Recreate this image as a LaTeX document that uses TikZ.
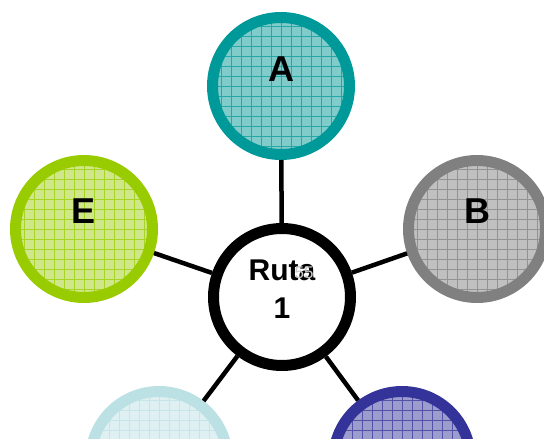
\documentclass[tikz,border=0pt]{standalone}
\usepackage{fontspec}
\setmainfont{Liberation Sans}
\usepackage{tikz}
\usetikzlibrary{positioning}
\definecolor{tealR}{HTML}{009999}
\definecolor{tealF}{HTML}{80CCCA}
\definecolor{greyR}{HTML}{808080}
\definecolor{greyF}{HTML}{C0C0C0}
\definecolor{limeR}{HTML}{99CC00}
\definecolor{limeF}{HTML}{D0E68A}
\definecolor{iceR}{HTML}{BCE1E4}
\definecolor{iceF}{HTML}{DFF0F2}
\definecolor{navyR}{HTML}{333399}
\definecolor{navyF}{HTML}{9C9CCD}
\tikzset{
  bubble/.style 2 args={circle, draw=#1, fill=#2, line width=11pt, minimum size=137pt,
    inner sep=0pt, outer sep=auto,
    path picture={\draw[#1!85, line width=0.5pt, step=10pt]
      (path picture bounding box.south west) grid (path picture bounding box.north east);}},
  hub/.style={circle, draw=black, fill=white, line width=11pt, minimum size=137pt,
    inner sep=0pt, outer sep=auto},
  spoke/.style={black, line width=4.5pt},
  tag/.style={font=\fontsize{36}{40}\selectfont\bfseries},
}
\begin{document}
\begin{tikzpicture}[x=1pt, y=-1pt]
  \useasboundingbox (0,0) rectangle (544,439);
  \clip (0,0) rectangle (544,439);
  % route hub and the five stops
  \node[hub] (ruta) at (282,297) {};
  \node[bubble={tealR}{tealF}] (A) at (281,86) {};
  \node[bubble={greyR}{greyF}] (B) at (477,229) {};
  \node[bubble={limeR}{limeF}] (E) at (84,229) {};
  \node[bubble={iceR}{iceF}] (D) at (159,460) {};
  \node[bubble={navyR}{navyF}] (C) at (402,460) {};
  % spokes
  \foreach \s in {A,B,C,D,E}
    \draw[spoke] (ruta) -- (\s);
  % labels
  \node[tag] (A-txt) at ([yshift=17pt]A.center) {A};
  \node[tag] (B-txt) at ([yshift=18pt]B.center) {B};
  \node[tag] (E-txt) at ([yshift=18pt]E.center) {E};
  \node[font=\fontsize{30}{38}\selectfont\bfseries, align=center] (ruta-txt)
    at ([yshift=8pt]ruta.center) {Ruta\\1};
  \node[font=\fontsize{17}{17}\selectfont, text=gray!45] (ruta-num) at (304,273) {55};
\end{tikzpicture}
\end{document}
